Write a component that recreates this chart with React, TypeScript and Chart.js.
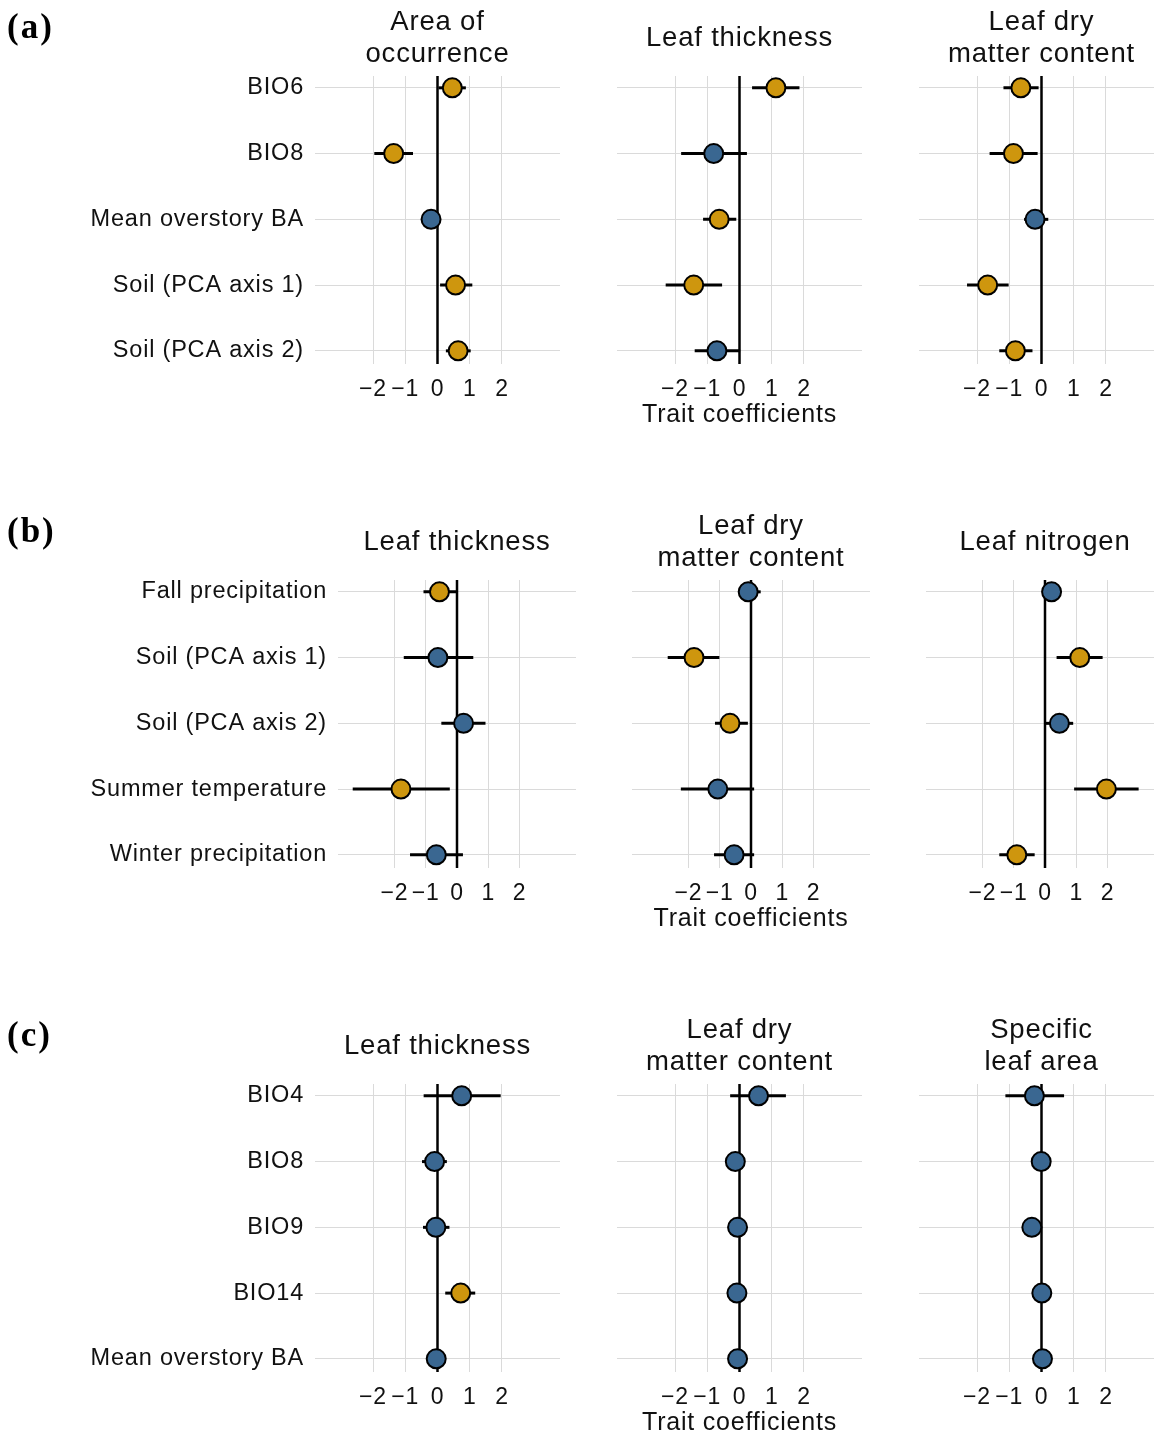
import React, { useEffect, useRef } from 'react';
import { Chart, registerables } from 'chart.js';
Chart.register(...registerables);

const GOLD = '#CE960E';
const BLUE = '#3A6791';
const TEXT = '#111111';
const GRID = '#dadada';
const FONT = '"Liberation Sans", Arial, Helvetica, sans-serif';

// ---------- categories ----------
const catsA = ['BIO6', 'BIO8', 'Mean overstory BA', 'Soil (PCA axis 1)', 'Soil (PCA axis 2)'];
const catsB = ['Fall precipitation', 'Soil (PCA axis 1)', 'Soil (PCA axis 2)', 'Summer temperature', 'Winter precipitation'];
const catsC = ['BIO4', 'BIO8', 'BIO9', 'BIO14', 'Mean overstory BA'];

// ---------- x tick values ----------
const xTickValues = [-2, -1, 0, 1, 2];
const xTitle = 'Trait coefficients';

// ---------- row (a) ----------
const aAreaEst = [0.46, -1.36, -0.2, 0.56, 0.64];
const aAreaLo = [0.03, -1.96, -0.45, 0.08, 0.26];
const aAreaHi = [0.88, -0.76, 0.05, 1.08, 1.03];

const aThickEst = [1.13, -0.8, -0.63, -1.42, -0.7];
const aThickLo = [0.39, -1.81, -1.13, -2.29, -1.39];
const aThickHi = [1.86, 0.23, -0.1, -0.54, 0.02];

const aLdmcEst = [-0.64, -0.87, -0.2, -1.67, -0.81];
const aLdmcLo = [-1.18, -1.61, -0.54, -2.31, -1.31];
const aLdmcHi = [-0.09, -0.12, 0.21, -1.02, -0.28];

// ---------- row (b) ----------
const bThickEst = [-0.56, -0.61, 0.21, -1.79, -0.66];
const bThickLo = [-1.07, -1.7, -0.5, -3.33, -1.5];
const bThickHi = [-0.03, 0.52, 0.91, -0.23, 0.19];

const bLdmcEst = [-0.09, -1.82, -0.67, -1.06, -0.54];
const bLdmcLo = [-0.4, -2.66, -1.15, -2.24, -1.18];
const bLdmcHi = [0.31, -1.01, -0.1, 0.1, 0.1];

const bNitEst = [0.21, 1.11, 0.46, 1.96, -0.9];
const bNitLo = [-0.05, 0.37, -0.03, 0.93, -1.46];
const bNitHi = [0.47, 1.84, 0.9, 2.99, -0.33];

// ---------- row (c) ----------
const cThickEst = [0.75, -0.09, -0.05, 0.72, -0.04];
const cThickLo = [-0.43, -0.48, -0.45, 0.24, -0.3];
const cThickHi = [1.96, 0.29, 0.37, 1.17, 0.22];

const cLdmcEst = [0.59, -0.13, -0.06, -0.08, -0.06];
const cLdmcLo = [-0.29, -0.35, -0.3, -0.38, -0.28];
const cLdmcHi = [1.44, 0.1, 0.18, 0.2, 0.16];

const cSlaEst = [-0.22, -0.01, -0.3, 0.01, 0.03];
const cSlaLo = [-1.12, -0.25, -0.58, -0.28, -0.22];
const cSlaHi = [0.7, 0.23, 0.02, 0.32, 0.28];

// ---------- layout ----------
const ROW_STEP = 504;
const TITLE_H = 76;
const PLOT_H = 288;
const XAXIS_H = 70;
const X_MIN = -3.8;
const X_MAX = 3.8;
const Y_MIN = -0.18;
const Y_MAX = 4.2;

type PanelSpec = {
  key: string;
  title: string[];
  cats: string[];
  est: number[];
  lo: number[];
  hi: number[];
  left: number;
  top: number;
  plotW: number;
  yAxisW: number;
  showY: boolean;
  showXTitle: boolean;
  rowLabel?: string;
};

const spacingPlugin = {
  id: 'spacing',
  beforeDraw(chart: any) {
    try {
      (chart.ctx as any).letterSpacing = '0.8px';
    } catch (e) {}
  },
};

const zeroLinePlugin = {
  id: 'zeroLine',
  beforeDatasetsDraw(chart: any) {
    const { ctx, chartArea, scales } = chart;
    const px = scales.x.getPixelForValue(0);
    ctx.save();
    ctx.strokeStyle = '#000';
    ctx.lineWidth = 2.5;
    ctx.beginPath();
    ctx.moveTo(px, chartArea.top);
    ctx.lineTo(px, chartArea.bottom);
    ctx.stroke();
    ctx.restore();
  },
};

const rowLabelPlugin = {
  id: 'rowLabel',
  afterDraw(chart: any, _args: any, opts: any) {
    if (!opts || !opts.text) return;
    const ctx = chart.ctx;
    ctx.save();
    try {
      (ctx as any).letterSpacing = '2px';
    } catch (e) {}
    ctx.fillStyle = '#000';
    ctx.font = 'bold 35px "Liberation Serif", "Times New Roman", serif';
    ctx.textAlign = 'left';
    ctx.textBaseline = 'alphabetic';
    ctx.fillText(opts.text, 7, 38);
    ctx.restore();
  },
};

function fmtTick(v: number) {
  if (v < 0) return '\u2212' + Math.abs(v);
  return String(v);
}

function Panel({ spec }: { spec: PanelSpec }) {
  const ref = useRef<HTMLCanvasElement | null>(null);
  const width = spec.yAxisW + spec.plotW;
  const height = TITLE_H + PLOT_H + XAXIS_H;

  useEffect(() => {
    if (!ref.current) return;
    const { cats, est, lo, hi } = spec;
    const colors = est.map((_, i) => (lo[i] > 0 || hi[i] < 0 ? GOLD : BLUE));
    const twoLines = spec.title.length > 1;
    const errDatasets = est.map((_, i) => ({
      type: 'line' as const,
      data: [
        { x: lo[i], y: i },
        { x: hi[i], y: i },
      ],
      borderColor: '#000',
      borderWidth: 3,
      borderCapStyle: 'butt',
      pointRadius: 0,
      pointHoverRadius: 0,
      order: 2,
    }));
    const chart = new Chart(ref.current, {
      type: 'scatter',
      data: {
        datasets: [
          {
            type: 'scatter',
            data: est.map((v, i) => ({ x: v, y: i })),
            pointRadius: 9.5,
            pointHoverRadius: 9.5,
            pointBackgroundColor: colors,
            pointBorderColor: '#000',
            pointBorderWidth: 2,
            pointHoverBorderWidth: 2,
            order: 0,
          } as any,
          ...(errDatasets as any[]),
        ],
      },
      options: {
        animation: false,
        responsive: false,
        maintainAspectRatio: false,
        events: [],
        layout: { padding: 0, autoPadding: false },
        plugins: {
          legend: { display: false },
          tooltip: { enabled: false },
          title: {
            display: true,
            text: spec.title,
            fullSize: false,
            color: TEXT,
            font: { family: FONT, size: 27.5, weight: 'normal', lineHeight: 32 / 27.5 },
            padding: twoLines ? { top: 6, bottom: 6 } : { top: 22, bottom: 22 },
          },
          rowLabel: { text: spec.rowLabel || '' },
        } as any,
        scales: {
          x: {
            type: 'linear',
            min: X_MIN,
            max: X_MAX,
            afterBuildTicks: (s: any) => {
              s.ticks = xTickValues.map((v) => ({ value: v }));
            },
            afterFit: (s: any) => {
              s.height = XAXIS_H;
            },
            ticks: {
              autoSkip: false,
              maxRotation: 0,
              padding: 12,
              color: TEXT,
              font: { family: FONT, size: 23 },
              callback: (v: any) => fmtTick(Number(v)),
            },
            grid: { color: GRID, lineWidth: 1, drawTicks: false },
            border: { display: false },
            title: {
              display: spec.showXTitle,
              text: xTitle,
              color: TEXT,
              font: { family: FONT, size: 25, lineHeight: 1.2 },
              padding: { top: 0, bottom: 4 },
            },
          },
          y: {
            type: 'linear',
            reverse: true,
            min: Y_MIN,
            max: Y_MAX,
            afterBuildTicks: (s: any) => {
              s.ticks = cats.map((_, i) => ({ value: i }));
            },
            afterFit: (s: any) => {
              s.width = spec.yAxisW;
            },
            ticks: {
              display: spec.showY,
              autoSkip: false,
              padding: 11,
              color: TEXT,
              font: { family: FONT, size: 23.5 },
              callback: (v: any) => cats[Math.round(Number(v))] ?? '',
            },
            grid: { color: GRID, lineWidth: 1, drawTicks: false },
            border: { display: false },
          },
        },
      } as any,
      plugins: [spacingPlugin, zeroLinePlugin, rowLabelPlugin],
    } as any);
    return () => chart.destroy();
  }, [spec]);

  return (
    <canvas
      ref={ref}
      width={width}
      height={height}
      style={{ position: 'absolute', left: spec.left, top: spec.top, width, height }}
    />
  );
}

const W_AC = 245;
const W_B = 238;

const panels: PanelSpec[] = [
  // row a
  { key: 'a1', title: ['Area of', 'occurrence'], cats: catsA, est: aAreaEst, lo: aAreaLo, hi: aAreaHi, left: 0, top: 0, plotW: W_AC, yAxisW: 315, showY: true, showXTitle: false, rowLabel: '(a)' },
  { key: 'a2', title: ['Leaf thickness'], cats: catsA, est: aThickEst, lo: aThickLo, hi: aThickHi, left: 617, top: 0, plotW: W_AC, yAxisW: 0, showY: false, showXTitle: true },
  { key: 'a3', title: ['Leaf dry', 'matter content'], cats: catsA, est: aLdmcEst, lo: aLdmcLo, hi: aLdmcHi, left: 919, top: 0, plotW: W_AC, yAxisW: 0, showY: false, showXTitle: false },
  // row b
  { key: 'b1', title: ['Leaf thickness'], cats: catsB, est: bThickEst, lo: bThickLo, hi: bThickHi, left: 0, top: ROW_STEP, plotW: W_B, yAxisW: 338, showY: true, showXTitle: false, rowLabel: '(b)' },
  { key: 'b2', title: ['Leaf dry', 'matter content'], cats: catsB, est: bLdmcEst, lo: bLdmcLo, hi: bLdmcHi, left: 632, top: ROW_STEP, plotW: W_B, yAxisW: 0, showY: false, showXTitle: true },
  { key: 'b3', title: ['Leaf nitrogen'], cats: catsB, est: bNitEst, lo: bNitLo, hi: bNitHi, left: 926, top: ROW_STEP, plotW: W_B, yAxisW: 0, showY: false, showXTitle: false },
  // row c
  { key: 'c1', title: ['Leaf thickness'], cats: catsC, est: cThickEst, lo: cThickLo, hi: cThickHi, left: 0, top: 2 * ROW_STEP, plotW: W_AC, yAxisW: 315, showY: true, showXTitle: false, rowLabel: '(c)' },
  { key: 'c2', title: ['Leaf dry', 'matter content'], cats: catsC, est: cLdmcEst, lo: cLdmcLo, hi: cLdmcHi, left: 617, top: 2 * ROW_STEP, plotW: W_AC, yAxisW: 0, showY: false, showXTitle: true },
  { key: 'c3', title: ['Specific', 'leaf area'], cats: catsC, est: cSlaEst, lo: cSlaLo, hi: cSlaHi, left: 919, top: 2 * ROW_STEP, plotW: W_AC, yAxisW: 0, showY: false, showXTitle: false },
];

export default function App() {
  return (
    <div
      style={{
        position: 'absolute',
        left: 0,
        top: 0,
        width: 1154,
        height: 1435,
        overflow: 'hidden',
        background: '#fff',
      }}
    >
      {panels.map((p) => (
        <Panel key={p.key} spec={p} />
      ))}
    </div>
  );
}
